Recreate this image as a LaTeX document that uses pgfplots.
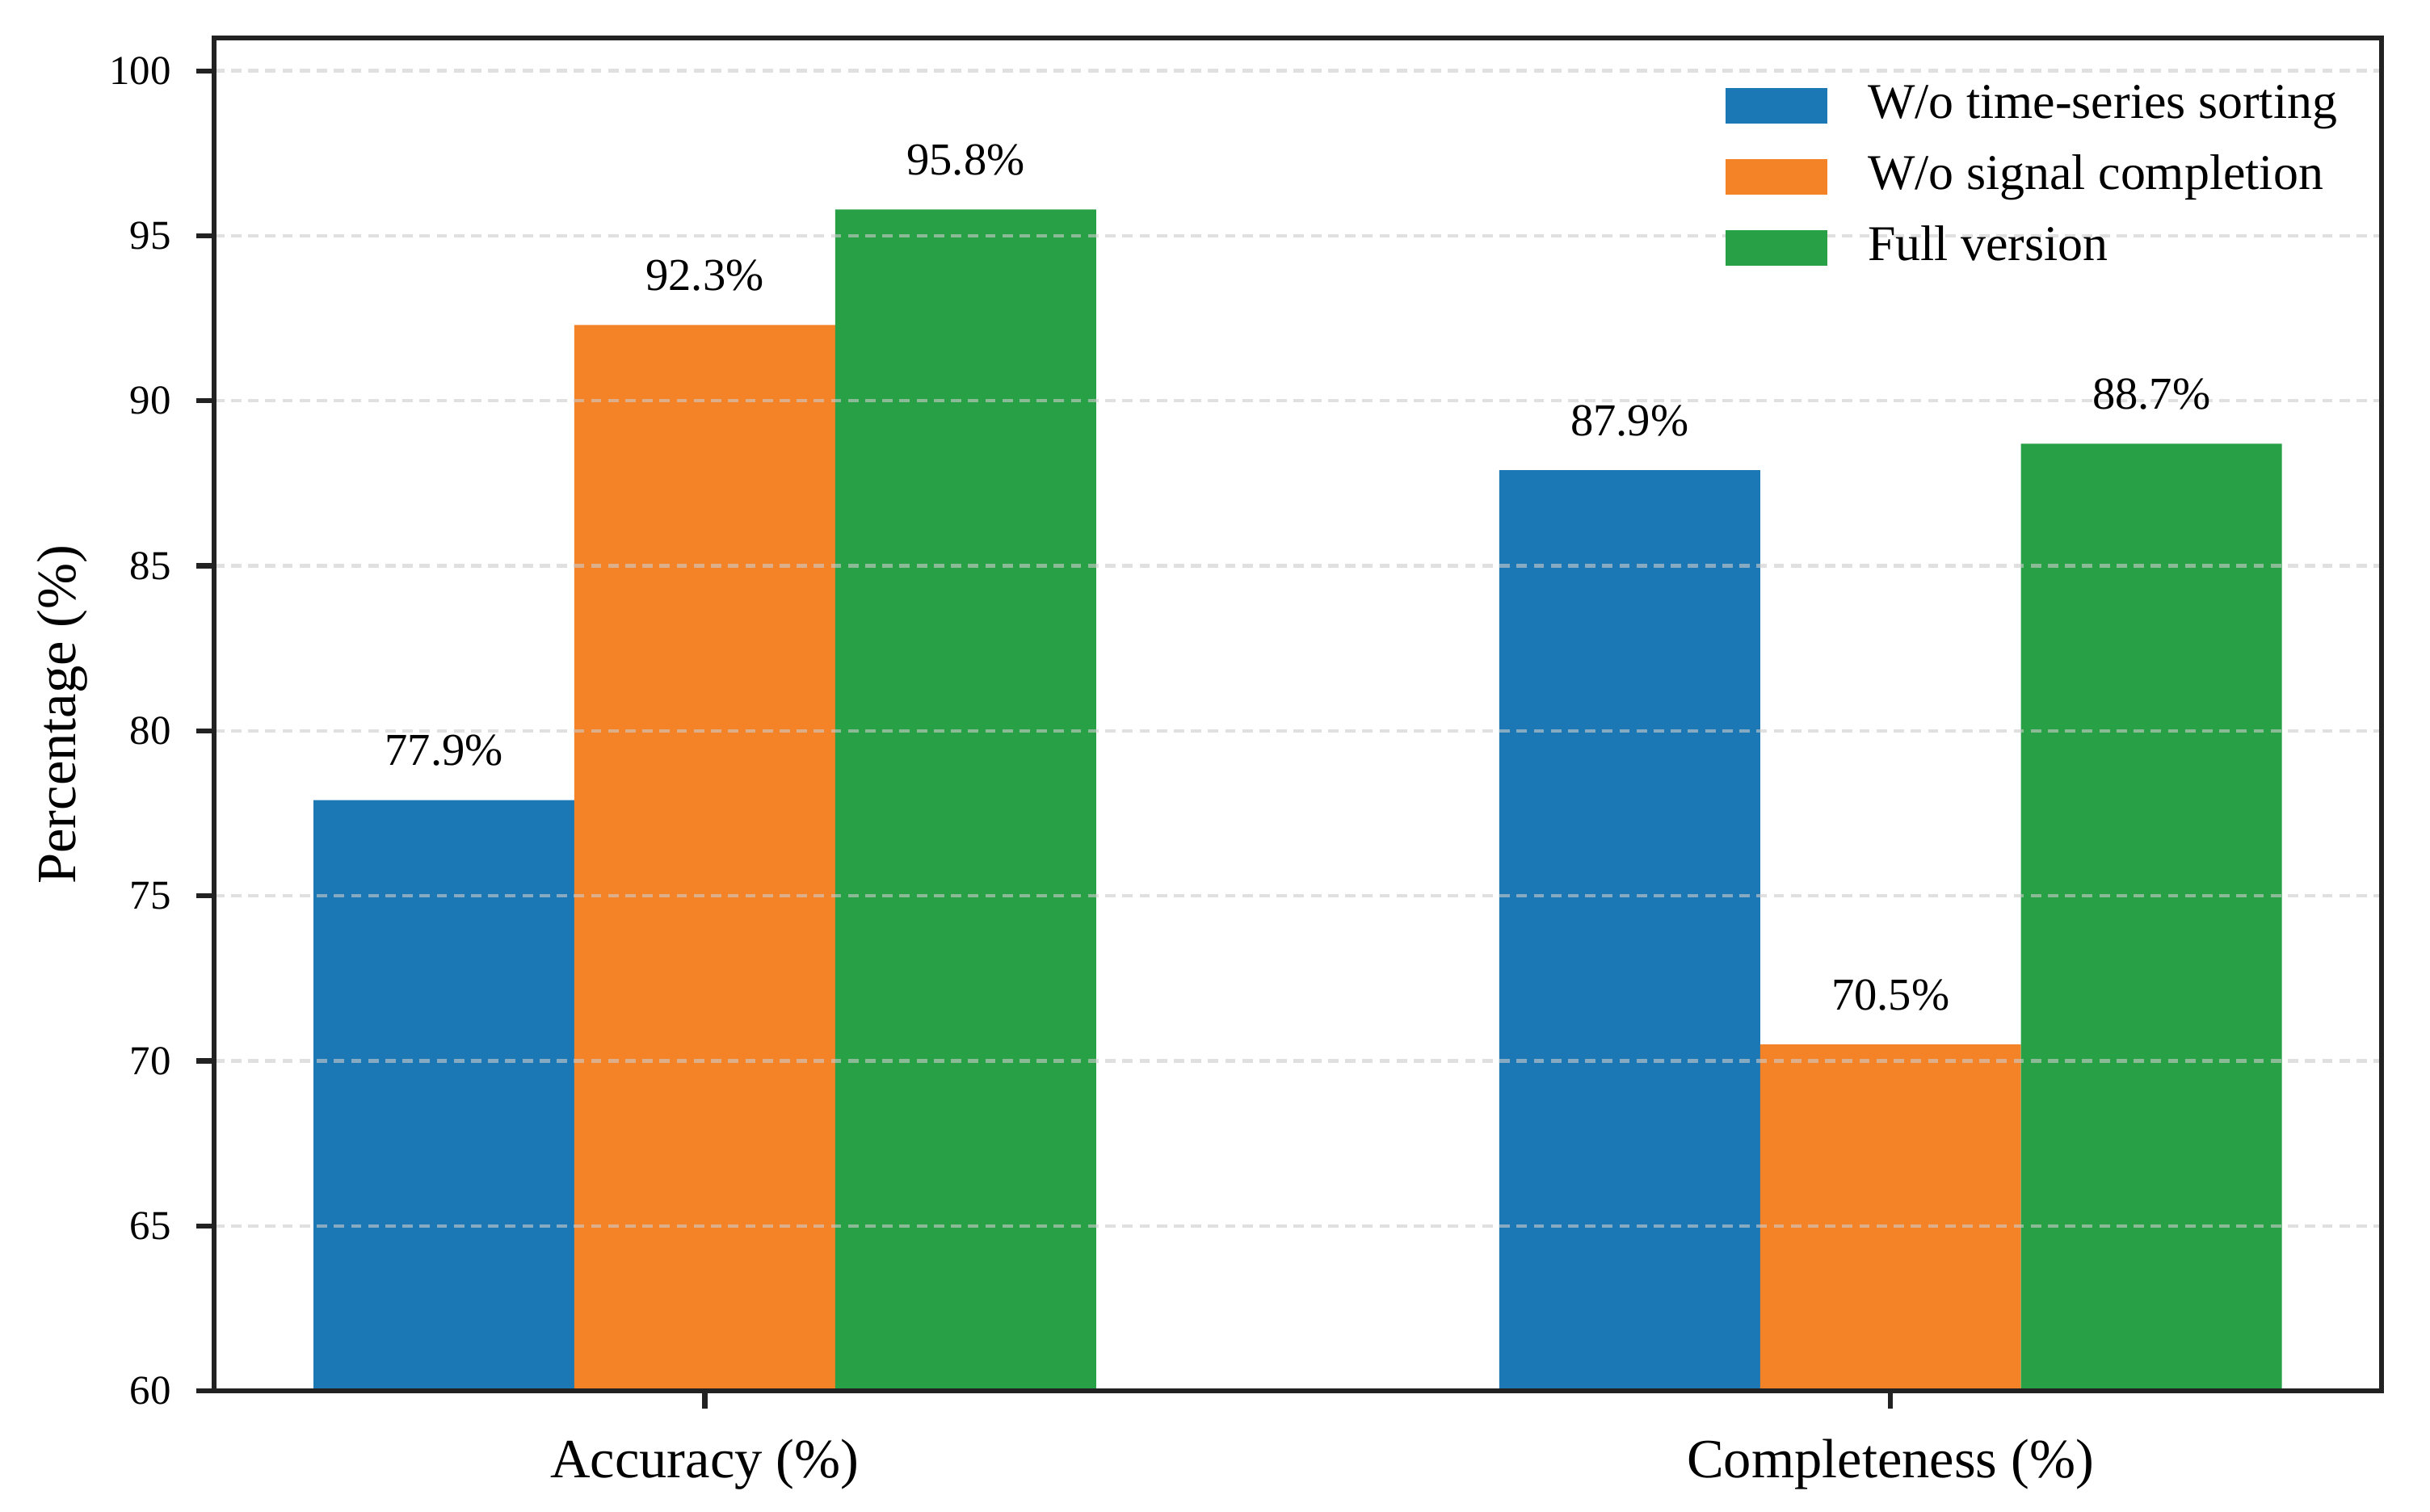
\documentclass[border=0pt]{standalone}
\usepackage{fontspec}
\setmainfont{Liberation Serif}
\usepackage{pgfplots}
\pgfplotsset{compat=1.18}

\definecolor{cblue}{HTML}{1B78B4}
\definecolor{corange}{HTML}{F48226}
\definecolor{cgreen}{HTML}{28A046}
\definecolor{spine}{HTML}{222222}

\begin{document}
\begin{tikzpicture}
\begin{axis}[
    scale only axis,
    width=607pt, height=379pt,
    xmin=-0.414, xmax=1.414,
    ymin=60, ymax=101,
    ytick={60,65,...,100},
    xtick={0,1},
    xticklabels={Accuracy (\%), Completeness (\%)},
    xtick pos=left, ytick pos=left,
    tick align=outside,
    major tick length=5pt,
    tick style={line width=1.4pt, color=spine},
    axis line style={line width=1.4pt, color=spine},
    /pgf/number format/assume math mode=true,
    tick label style={font=\fontsize{11.5}{13}\selectfont},
    yticklabel style={xshift=-3.5pt},
    xticklabel style={font=\fontsize{15.5}{17}\selectfont, yshift=-5pt},
    ylabel={Percentage (\%)},
    every axis y label/.style={at={(axis description cs:-0.07,0.5)}, rotate=90, anchor=center,
        font=\fontsize{15.5}{17}\selectfont},
    ymajorgrids,
    major grid style={draw=black!20, line width=1pt, dash pattern=on 2.9pt off 1.9pt, opacity=0.6},
    axis on top,
    ybar, bar width=0.22,
    nodes near coords={\pgfmathprintnumber[fixed,precision=1,zerofill]{\pgfplotspointmeta}\%},
    every node near coord/.append style={font=\fontsize{12.8}{14}\selectfont, anchor=south, yshift=6pt, color=black},
    legend image code/.code={\fill[#1] (0pt,-5pt) rectangle (28.6pt,5pt); \path (38.9pt,0pt);},
    legend style={draw=none, fill=none, inner sep=0pt, outer sep=0pt,
        at={(axis description cs:1,1)}, anchor=north east, xshift=-11.4pt, yshift=-11.5pt,
        font=\fontsize{14}{16}\selectfont, row sep=4.9pt,
        nodes={inner sep=1pt, text height=10pt, text depth=3pt}},
    legend cell align=left,
]
\addplot[fill=cblue, draw=none, bar shift=-0.22] coordinates {(0,77.9) (1,87.9)};
\addlegendentry{W/o time-series sorting}
\addplot[fill=corange, draw=none, bar shift=0] coordinates {(0,92.3) (1,70.5)};
\addlegendentry{W/o signal completion}
\addplot[fill=cgreen, draw=none, bar shift=0.22] coordinates {(0,95.8) (1,88.7)};
\addlegendentry{Full version}
\end{axis}
\path (current axis.south west) ++(-59.9pt,-33.9pt) coordinate (bbA);
\path (current axis.north east) ++(13.6pt,10.6pt) coordinate (bbB);
\end{tikzpicture}
\end{document}
